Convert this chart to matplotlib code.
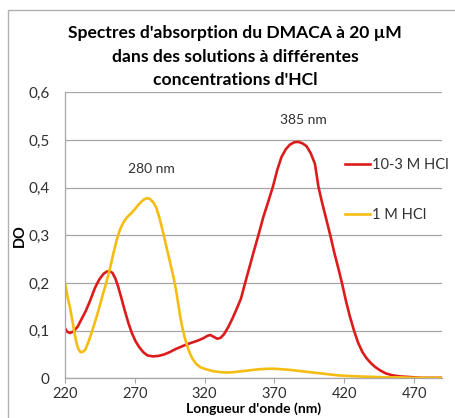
import matplotlib.pyplot as plt
from matplotlib.patches import Rectangle

# Wavelength (nm) and optical density
wl_red = [220, 221.5, 223.5, 226, 229, 232, 235, 238, 241.5, 244.5, 247.5, 250, 252, 254,
          256, 258, 260.5, 263, 265.5, 268, 270.5, 273, 276, 279, 283, 287, 291, 295,
          299, 303, 307, 311, 315, 319, 322, 324, 326.5, 329, 331.5, 334, 337, 340, 343,
          346, 349, 352, 355, 358.5, 362, 365.5, 369, 372, 375, 378, 381, 384, 387, 390,
          393, 396, 399, 401.5, 404, 407, 410, 413, 416, 418.5, 421, 424, 427, 430, 433,
          436, 439, 442, 446, 450, 455, 460, 465, 470, 475, 480, 490]
do_red = [0.105, 0.098, 0.095, 0.098, 0.108, 0.125, 0.142, 0.163, 0.19, 0.207, 0.219,
          0.224, 0.225, 0.221, 0.21, 0.193, 0.167, 0.14, 0.115, 0.094, 0.078, 0.066,
          0.055, 0.048, 0.046, 0.047, 0.05, 0.055, 0.061, 0.066, 0.071, 0.075, 0.079,
          0.084, 0.089, 0.091, 0.087, 0.083, 0.085, 0.093, 0.108, 0.126, 0.146, 0.167,
          0.2, 0.232, 0.264, 0.3, 0.338, 0.37, 0.403, 0.437, 0.464, 0.48, 0.49, 0.495,
          0.496, 0.493, 0.487, 0.472, 0.45, 0.402, 0.37, 0.335, 0.3, 0.262, 0.228, 0.198,
          0.165, 0.13, 0.1, 0.074, 0.055, 0.042, 0.032, 0.024, 0.016, 0.01, 0.006, 0.004,
          0.003, 0.002, 0.001, 0.001, 0.001]

wl_yel = [220, 221, 222, 223.5, 225, 226.5, 228, 229.5, 231, 232.5, 234.5, 237, 239.5,
          242, 244.5, 247, 249.5, 252, 254.5, 257, 259.5, 262, 264.5, 267, 269.5, 272,
          274.5, 277, 279, 281, 283.5, 285.5, 287.5, 289.5, 291.5, 293.5, 295.5, 297.5,
          299.5, 301, 302.5, 304, 305.5, 307.5, 309.5, 311.5, 314, 317, 321, 326, 331,
          336, 341, 347, 353, 359, 365, 370, 375, 380, 386, 392, 398, 404, 410, 416, 422,
          430, 440, 450, 460, 470, 480, 490]
do_yel = [0.2, 0.185, 0.168, 0.15, 0.125, 0.1, 0.077, 0.062, 0.055, 0.055, 0.06, 0.078,
          0.1, 0.123, 0.148, 0.175, 0.2, 0.228, 0.26, 0.29, 0.313, 0.328, 0.338, 0.345,
          0.353, 0.362, 0.37, 0.376, 0.378, 0.376, 0.368, 0.357, 0.338, 0.315, 0.29,
          0.265, 0.24, 0.215, 0.185, 0.158, 0.13, 0.107, 0.088, 0.068, 0.052, 0.04, 0.03,
          0.023, 0.019, 0.015, 0.013, 0.012, 0.013, 0.015, 0.017, 0.019, 0.02, 0.02,
          0.019, 0.018, 0.016, 0.014, 0.012, 0.01, 0.008, 0.006, 0.005, 0.004, 0.003,
          0.002, 0.002, 0.001, 0.001, 0.001]

x_ticks = [220, 270, 320, 370, 420, 470]
y_ticks = [0, 0.1, 0.2, 0.3, 0.4, 0.5, 0.6]
y_tick_labels = ['0', '0,1', '0,2', '0,3', '0,4', '0,5', '0,6']

plt.rcParams['font.family'] = ['Lato', 'DejaVu Sans']

fig = plt.figure(figsize=(4.55, 4.18), dpi=100)
ax = fig.add_axes([65 / 455, 1 - 378.3 / 418, 377 / 455, 286 / 418])

# chart border (cropped on the right and bottom in the original)
fig.patches.append(Rectangle((8 / 455, -0.1), 1.2, 1 - 10 / 418 + 0.1,
                             transform=fig.transFigure, fill=False,
                             edgecolor='#b0b0b0', linewidth=1))

ax.plot(wl_red, do_red, color='#dc1c1c', linewidth=1.9, label='10-3 M HCl')
ax.plot(wl_yel, do_yel, color='#f5bd12', linewidth=1.9, label='1 M HCl')

ax.set_xlim(220, 490)
ax.set_ylim(0, 0.6)
ax.set_xticks(x_ticks)
ax.set_yticks(y_ticks)
ax.set_yticklabels(y_tick_labels)
ax.grid(axis='y', color='#a6a6a6', linewidth=0.9)
ax.set_axisbelow(True)
for s in ['top', 'right']:
    ax.spines[s].set_visible(False)
for s in ['left', 'bottom']:
    ax.spines[s].set_color('#a6a6a6')
    ax.spines[s].set_linewidth(0.9)
ax.tick_params(axis='x', length=3.5, color='#a6a6a6', pad=2.5, labelsize=10.5, labelcolor='#303030')
ax.tick_params(axis='y', length=0, pad=11, labelsize=11, labelcolor='#303030')

ax.set_title("Spectres d'absorption du DMACA à 20 µM\ndans des solutions à différentes\nconcentrations d'HCl",
             fontsize=12.6, fontweight='bold', linespacing=1.6, x=(235 - 65) / 377, y=0.995)

ax.set_ylabel('DO', fontsize=10.5, fontweight='bold')
ax.yaxis.set_label_coords(-0.119, 0.5)
ax.yaxis.label.set_va('center')
ax.set_xlabel("Longueur d'onde (nm)", fontsize=10, fontweight='bold')
ax.xaxis.set_label_coords(0.5, -0.083)
ax.xaxis.label.set_va('top')

ax.text(391, 0.541, '385 nm', ha='center', va='center', fontsize=10, color='#303030')
ax.text(282, 0.44, '280 nm', ha='center', va='center', fontsize=10, color='#303030')

ax.legend(loc='upper left', bbox_to_anchor=(0.742, 0.77), frameon=False, fontsize=10.5,
          handlelength=1.75, handletextpad=0.15, labelspacing=2.45, borderpad=0,
          borderaxespad=0, labelcolor='#303030')

fig.savefig('out.png', dpi=100)
